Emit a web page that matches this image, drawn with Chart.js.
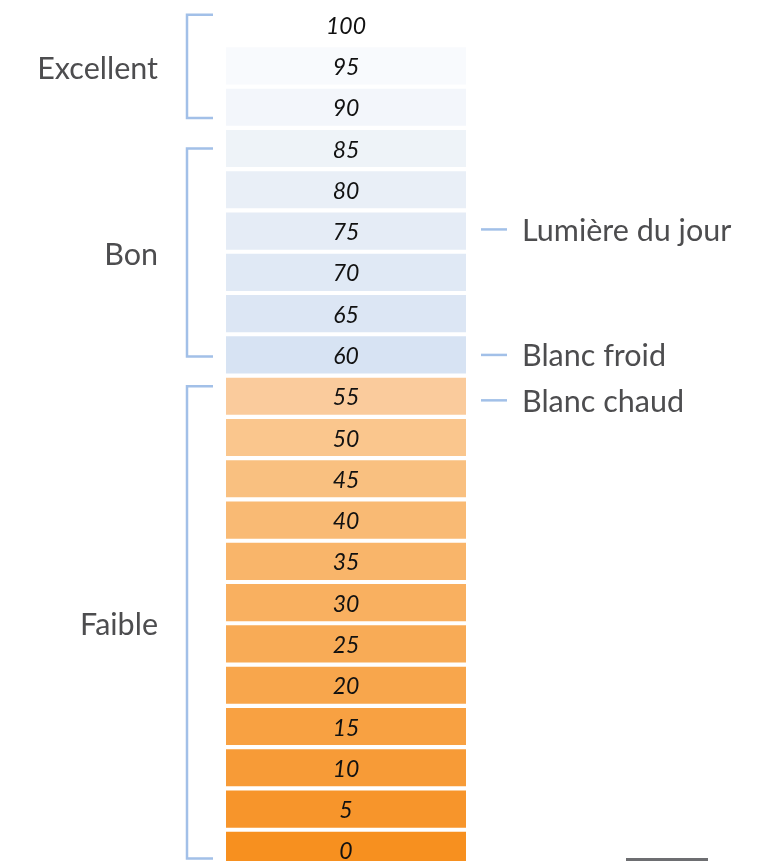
<!DOCTYPE html>
<html lang="fr">
<head>
<meta charset="utf-8">
<title>Indice de rendu des couleurs</title>
<script src="https://cdn.jsdelivr.net/npm/chart.js@4.4.1/dist/chart.umd.min.js"></script>
<style>
  html, body { margin: 0; padding: 0; background: #fff; overflow: hidden; }
  #wrap { width: 761px; height: 861px; overflow: hidden; position: relative; }
  canvas { display: block; }
</style>
</head>
<body>
<div id="wrap"><canvas id="cri" width="761" height="871"></canvas></div>
<script>
// scale rows, top to bottom
const scores = [100, 95, 90, 85, 80, 75, 70, 65, 60, 55, 50, 45, 40, 35, 30, 25, 20, 15, 10, 5, 0];
// every cell spans the full column
const cellSpan = [1, 1, 1, 1, 1, 1, 1, 1, 1, 1, 1, 1, 1, 1, 1, 1, 1, 1, 1, 1, 1];
const cellColors = [
  'rgba(255,255,255,0)', '#f8fafd', '#f3f6fb', '#eef3f8', '#e9eff7', '#e5ecf6', '#e0e9f5',
  '#dce6f4', '#d7e3f3', '#facb9c', '#fac68d', '#f9c080', '#f9ba74', '#f9b56a', '#f9b060',
  '#f8ab56', '#f8a64c', '#f8a142', '#f79b37', '#f7952b', '#f7901f'
];

// quality brackets on the left (score range covered by each bracket)
const groupNames = ['Excellent', 'Bon', 'Faible'];
const groupTop = [101.2, 85, 56.2];
const groupBottom = [88.7, 59.8, -1];

// light source markers on the right
const markerNames = ['Lumière du jour', 'Blanc froid', 'Blanc chaud'];
const markerScores = [75.2, 60, 54.5];

const bracketColor = '#a2c0e8';
const textColor = '#4d4d4f';

function scoreToPixel(yScale, score) {
  return yScale.getPixelForValue((100 - score) / 5);
}

const annotations = {
  id: 'annotations',
  afterDatasetsDraw(chart) {
    const { ctx, chartArea } = chart;
    const yScale = chart.scales.y;
    const cx = (chartArea.left + chartArea.right) / 2;
    ctx.save();

    // score inside each cell
    ctx.fillStyle = '#111';
    ctx.font = 'italic 23px Lato';
    ctx.textAlign = 'center';
    ctx.textBaseline = 'alphabetic';
    scores.forEach((s, i) => {
      const y = yScale.getPixelForValue(i);
      ctx.fillText(String(s), cx, y + 9);
    });

    // brackets and group names
    ctx.strokeStyle = bracketColor;
    ctx.lineWidth = 2.5;
    ctx.font = '30.5px Lato';
    ctx.textAlign = 'right';
    groupNames.forEach((name, i) => {
      const y0 = scoreToPixel(yScale, groupTop[i]);
      const y1 = scoreToPixel(yScale, groupBottom[i]);
      ctx.beginPath();
      ctx.moveTo(213, y0);
      ctx.lineTo(187, y0);
      ctx.lineTo(187, y1);
      ctx.lineTo(213, y1);
      ctx.stroke();
      ctx.fillStyle = textColor;
      ctx.fillText(name, 158, (y0 + y1) / 2 + 12.5);
    });

    // markers
    ctx.textAlign = 'left';
    markerNames.forEach((name, i) => {
      const y = scoreToPixel(yScale, markerScores[i]);
      ctx.beginPath();
      ctx.moveTo(481, y);
      ctx.lineTo(507, y);
      ctx.stroke();
      ctx.fillStyle = textColor;
      ctx.fillText(name, 522, y + 11.5);
    });

    // small rule at the lower right
    ctx.strokeStyle = '#6d6e71';
    ctx.lineWidth = 3;
    ctx.beginPath();
    ctx.moveTo(626, 859.5);
    ctx.lineTo(708, 859.5);
    ctx.stroke();

    ctx.restore();
  }
};

new Chart(document.getElementById('cri'), {
  type: 'bar',
  data: {
    labels: scores.map(String),
    datasets: [{
      data: cellSpan,
      backgroundColor: cellColors,
      borderWidth: 0,
      categoryPercentage: 1,
      barPercentage: 0.9
    }]
  },
  options: {
    indexAxis: 'y',
    responsive: false,
    animation: false,
    layout: { padding: { left: 226, right: 295, top: 4, bottom: 0 } },
    scales: {
      x: { display: false, min: 0, max: 1 },
      y: { display: false }
    },
    plugins: {
      legend: { display: false },
      tooltip: { enabled: false }
    }
  },
  plugins: [annotations]
});
</script>
</body>
</html>
